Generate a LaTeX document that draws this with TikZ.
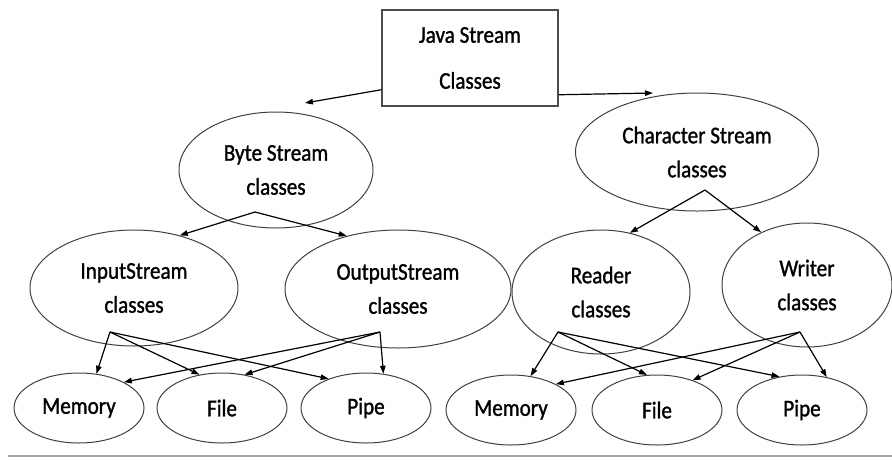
\documentclass[tikz,border=0pt]{standalone}
\usepackage{fontspec}
\setmainfont{Carlito}
\newfontface\lblfont{Carlito}[FakeStretch=0.88,FakeBold=1.2]
\usetikzlibrary{arrows.meta,shapes.geometric}
\tikzset{
  ell/.style={ellipse,draw=black!75,line width=1pt,inner sep=0pt,align=center,
    font=\lblfont\fontsize{24}{34}\selectfont},
  arr/.style={-{Triangle[length=8pt,width=5.5pt]},line width=1.2pt}
}
\begin{document}
\begin{tikzpicture}[x=1pt,y=-1pt]
\useasboundingbox (0,0) rectangle (892,459);
\node[draw=black!70,line width=1.5pt,minimum width=176pt,minimum height=96pt,
  align=center,font=\lblfont\fontsize{24}{46}\selectfont] (java) at (470,58) {Java Stream\\Classes};
\node[ell,minimum width=194pt,minimum height=116pt] (byte) at (276,170) {Byte Stream\\classes};
\node[ell,minimum width=243pt,minimum height=118pt] (char) at (697,152) {Character Stream\\classes};
\node[ell,minimum width=208pt,minimum height=116pt] (input) at (134,288) {InputStream\\classes};
\node[ell,minimum width=226pt,minimum height=118pt] (output) at (398,289) {OutputStream\\classes};
\node[ell,minimum width=178pt,minimum height=124pt] (reader) at (601,292) {Reader\\classes};
\node[ell,minimum width=170pt,minimum height=124pt] (writer) at (807,285) {Writer\\classes};
\foreach \n/\x/\y/\t in {mem1/79/408/Memory, file1/222/408/File, pipe1/366/408/Pipe,
  mem2/511/410/Memory, file2/657/410/File, pipe2/802/410/Pipe}
  \node[ell,minimum width=130pt,minimum height=70pt] (\n) at (\x,\y) {\t};
% free ends and forks
\coordinate (byteTip) at (305,103);
\coordinate (charTip) at (653,93);
\coordinate (byteFork) at (255,212);
\coordinate (charFork) at (705,190);
\coordinate (inFork) at (110,332);
\coordinate (outFork) at (380,332);
\coordinate (readFork) at (558,332);
\coordinate (writeFork) at (800,332);
\draw[arr] ([yshift=17pt]java.south west) -- (byteTip);
\draw[arr] ([yshift=12pt]java.south east) -- (charTip);
\foreach \s/\t in {byteFork/input.49, byteFork/output.134, charFork/reader.64, charFork/writer.131,
  inFork/mem1.63, inFork/file1.124, inFork/pipe1.142,
  outFork/mem1.30, outFork/file1.56, outFork/pipe1.63,
  readFork/mem2.60, readFork/file2.106, readFork/pipe2.124,
  writeFork/mem2.30, writeFork/file2.40, writeFork/pipe2.53}
  \draw[arr] (\s) -- (\t);
\draw[black!35,line width=1.5pt] (8,456) -- (892,456);
\end{tikzpicture}
\end{document}
